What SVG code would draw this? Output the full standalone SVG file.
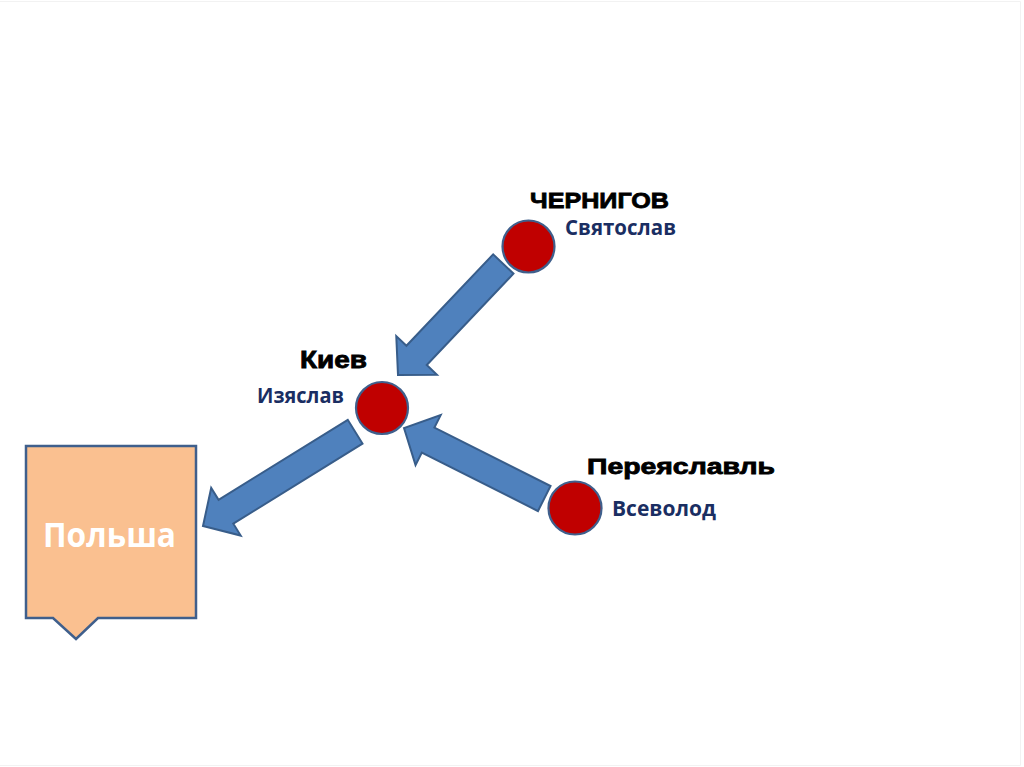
<svg xmlns="http://www.w3.org/2000/svg" width="1024" height="767" viewBox="0 0 1024 767">
<style>
.arrow{fill:#4f81bd;stroke:#385d8a;stroke-width:2;stroke-linejoin:miter}
.city{fill:#c00000;stroke:#3f5f8c;stroke-width:2.2}
.title{font-family:"Liberation Sans",Arial,sans-serif;font-weight:bold;fill:#000;stroke:#000;stroke-width:0.8}
.ruler{font-family:"Open Sans","Noto Sans",sans-serif;font-weight:bold;fill:#1a2e62}
</style>
<rect x="0" y="0" width="1024" height="767" fill="#ffffff"/>
<path d="M0,1.5 H1020.5 V765.5 H0" fill="none" stroke="#f2f2f2" stroke-width="1"/>
<g id="connectors">
<polygon class="arrow" transform="translate(398,375) rotate(133.5)" points="0,0 -27,-28 -27,-14 -153,-14 -153,14 -27,14 -27,28"/>
<polygon class="arrow" transform="translate(203,526) rotate(148.2)" points="0,0 -27,-28 -27,-14 -179,-14 -179,14 -27,14 -27,28"/>
<polygon class="arrow" transform="translate(404,428) rotate(206.7)" points="0,0 -27,-28 -27,-14 -157,-14 -157,14 -27,14 -27,28"/>
</g>
<g id="chernigov">
<circle class="city" cx="528.5" cy="246.5" r="26"/>
<text class="title" x="530" y="208" font-size="22" textLength="139" lengthAdjust="spacingAndGlyphs">ЧЕРНИГОВ</text>
<text class="ruler" x="565" y="235" font-size="21" textLength="111" lengthAdjust="spacingAndGlyphs">Святослав</text>
</g>
<g id="kiev">
<circle class="city" cx="382" cy="408" r="26"/>
<text class="title" x="300" y="368" font-size="23" textLength="67" lengthAdjust="spacingAndGlyphs">Киев</text>
<text class="ruler" x="257" y="403" font-size="21" textLength="87" lengthAdjust="spacingAndGlyphs">Изяслав</text>
</g>
<g id="pereyaslavl">
<circle class="city" cx="575" cy="508" r="26.5"/>
<text class="title" x="587" y="474" font-size="22" textLength="188" lengthAdjust="spacingAndGlyphs">Переяславль</text>
<text class="ruler" x="612" y="516" font-size="22" textLength="104" lengthAdjust="spacingAndGlyphs">Всеволод</text>
</g>
<g id="polsha">
<path d="M26,446 L196,446 L196,618 L98,618 L76,639 L53,618 L26,618 Z" fill="#fac090" stroke="#3f5f8c" stroke-width="2.5" stroke-linejoin="miter"/>
<text x="43" y="547" font-family="'Open Sans','Noto Sans',sans-serif" font-weight="bold" font-size="34" fill="#ffffff" textLength="133" lengthAdjust="spacingAndGlyphs">Польша</text>
</g>
</svg>
